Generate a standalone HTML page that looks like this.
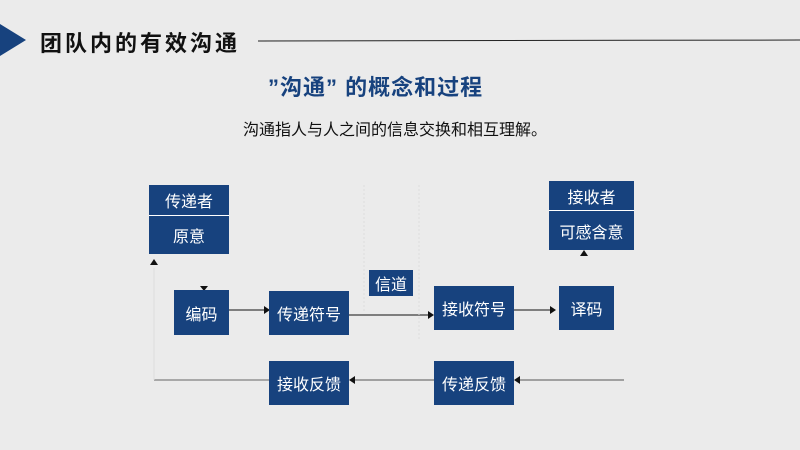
<!DOCTYPE html>
<html><head><meta charset="utf-8"><style>
body{margin:0;width:800px;height:450px;background:#ebebeb;position:relative;overflow:hidden;font-family:"Liberation Sans","Noto Sans CJK SC",sans-serif}
.b{position:absolute;background:#17427e;color:#fff;display:flex;align-items:center;justify-content:center;font-size:16px}
.t{position:absolute;white-space:nowrap}
</style></head><body>
<svg width="800" height="450" style="position:absolute;left:0;top:0">
<polygon points="0,24 26,40 0,56" fill="#17427e"/>
<line x1="258" y1="41" x2="800" y2="40" stroke="#222" stroke-width="1"/>
<line x1="229" y1="310" x2="266" y2="310" stroke="#111"/>
<polygon points="264,306 270,310 264,314" fill="#111"/>
<line x1="349" y1="315" x2="430" y2="315" stroke="#111"/>
<polygon points="428,311 434,315 428,319" fill="#111"/>
<line x1="514" y1="310" x2="552" y2="310" stroke="#111"/>
<polygon points="550,306 556,310 550,314" fill="#111"/>
<line x1="624" y1="380" x2="518" y2="380" stroke="#555"/>
<polygon points="520,376 514,380 520,384" fill="#111"/>
<line x1="434" y1="380" x2="353" y2="380" stroke="#555"/>
<polygon points="355,376 349,380 355,384" fill="#111"/>
<line x1="269" y1="380" x2="154" y2="380" stroke="#666"/>
<line x1="154" y1="268" x2="154" y2="380" stroke="#ddd"/>
<polygon points="150,265 154,259 158,265" fill="#111"/>
<polygon points="200,286 204,291 208,286" fill="#111"/>
<polygon points="580,256 584,250 588,256" fill="#111"/>
<line x1="364" y1="185" x2="364" y2="312" stroke="#ddd" stroke-dasharray="2,2"/>
<line x1="419" y1="185" x2="419" y2="340" stroke="#ddd" stroke-dasharray="2,2"/>
</svg>
<div class="t" style="left:40px;top:26px;font-size:22px;font-weight:bold;color:#111;letter-spacing:3px">团队内的有效沟通</div>
<div class="t" style="left:268px;top:70px;font-size:22px;font-weight:bold;color:#17427e;letter-spacing:1px">”沟通” 的概念和过程</div>
<div class="t" style="left:243px;top:116px;font-size:16px;color:#111">沟通指人与人之间的信息交换和相互理解。</div>
<div class="b" style="left:149px;top:185px;width:80px;height:30px;border-bottom:1px solid #fff">传递者</div>
<div class="b" style="left:149px;top:216px;width:80px;height:38px">原意</div>
<div class="b" style="left:174px;top:290px;width:55px;height:45px">编码</div>
<div class="b" style="left:269px;top:291px;width:80px;height:44px">传递符号</div>
<div class="b" style="left:369px;top:270px;width:44px;height:26px">信道</div>
<div class="b" style="left:434px;top:286px;width:80px;height:44px">接收符号</div>
<div class="b" style="left:559px;top:286px;width:55px;height:44px">译码</div>
<div class="b" style="left:549px;top:181px;width:85px;height:29px;border-bottom:1px solid #fff">接收者</div>
<div class="b" style="left:549px;top:211px;width:85px;height:39px">可感含意</div>
<div class="b" style="left:434px;top:361px;width:80px;height:44px">传递反馈</div>
<div class="b" style="left:269px;top:361px;width:80px;height:44px">接收反馈</div>
</body></html>
